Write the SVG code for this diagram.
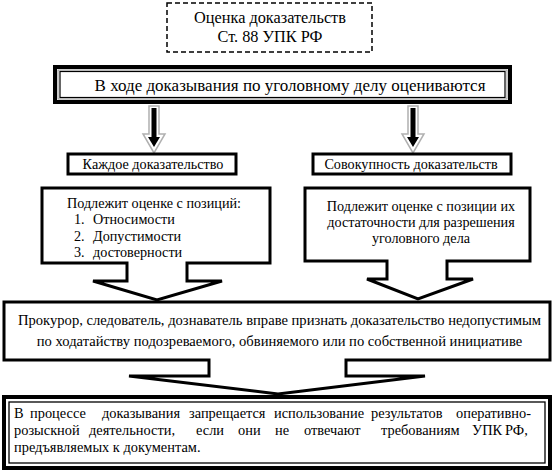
<svg xmlns="http://www.w3.org/2000/svg" width="554" height="472" viewBox="0 0 554 472">
<style>
text{font-family:"Liberation Serif","Times New Roman",serif;fill:#000}
.c{text-anchor:middle}
.box{fill:#fff;stroke:#000}
.call{fill:#fff;stroke:#000;stroke-width:3;stroke-linejoin:miter}
.ao{fill:#fff;stroke:#b0b0b0;stroke-width:1.5}
.ai{fill:#000}
</style>
<rect width="554" height="472" fill="#fff"/>
<g id="title">
<rect x="167" y="3" width="205" height="49" fill="#fff" stroke="#000" stroke-width="1.5" stroke-dasharray="5,3"/>
<text class="c" x="270" y="23" font-size="16.3">Оценка доказательств</text>
<text class="c" x="270" y="42" font-size="16.3">Ст. 88 УПК РФ</text>
</g>
<g id="banner">
<rect x="55" y="67" width="455" height="35" fill="#fff" stroke="#000" stroke-width="4"/>
<rect x="58" y="70" width="449" height="29" fill="none" stroke="#9a9a9a" stroke-width="1"/>
<rect x="60" y="71.5" width="445" height="26" fill="none" stroke="#000" stroke-width="1.2"/>
<text class="c" x="290" y="91" font-size="17">В ходе доказывания по уголовному делу оцениваются</text>
</g>
<g id="connectors">
<polygon class="ao" points="149,106 159,106 159,134 165,134 154,153 143,134 149,134"/>
<rect class="ai" x="151.5" y="108" width="5" height="30"/>
<polygon class="ai" points="148,137 160,137 154,147"/>
<polygon class="ao" points="408,106 418,106 418,134 424,134 413,153 402,134 408,134"/>
<rect class="ai" x="410.5" y="108" width="5" height="30"/>
<polygon class="ai" points="407,137 419,137 413,147"/>
</g>
<g id="each">
<rect class="box" x="68" y="154" width="168" height="20" stroke-width="3"/>
<text class="c" x="153" y="169" font-size="14.2">Каждое доказательство</text>
</g>
<g id="total">
<rect class="box" x="313" y="154" width="198" height="20" stroke-width="3"/>
<text class="c" x="411" y="169" font-size="14.2">Совокупность доказательств</text>
</g>
<g id="left-callout">
<polygon class="call" points="42,188 270,188 270,263 187,263 187,281 222,281 157,300 93,281 127,281 127,263 42,263"/>
<text class="c" x="154" y="208" font-size="14.2">Подлежит оценке с позиций:</text>
<text x="74" y="224" font-size="14.2">1.</text><text x="93" y="224" font-size="14.2">Относимости</text>
<text x="74" y="241" font-size="14.2">2.</text><text x="93" y="241" font-size="14.2">Допустимости</text>
<text x="74" y="257" font-size="14.2">3.</text><text x="93" y="257" font-size="14.2">достоверности</text>
</g>
<g id="right-callout">
<polygon class="call" points="305,188 530,188 530,261 447,261 447,279 473,279 418,299 367,279 387,279 387,261 305,261"/>
<text class="c" x="421" y="211" font-size="14.2">Подлежит оценке с позиции их</text>
<text class="c" x="421" y="227" font-size="14.2">достаточности для разрешения</text>
<text class="c" x="421" y="243" font-size="14.2">уголовного дела</text>
</g>
<g id="prosecutor">
<polygon class="call" points="4,302 550,302 550,360 346,360 346,376 425,376 278,394 129,376 209,376 209,360 4,360"/>
<text class="c" x="279.5" y="325" font-size="14.6">Прокурор, следователь, дознаватель вправе  признать доказательство недопустимым</text>
<text class="c" x="279.5" y="346" font-size="14.6">по ходатайству подозреваемого, обвиняемого или по собственной инициативе</text>
</g>
<g id="prohibition">
<rect x="4" y="397" width="546" height="71" fill="#fff" stroke="#000" stroke-width="4"/>
<rect x="9" y="402" width="536" height="61" fill="none" stroke="#000" stroke-width="1.3"/>
<text font-size="14.4" y="418"><tspan x="14">В</tspan><tspan x="30">процессе</tspan><tspan x="102">доказывания</tspan><tspan x="189">запрещается</tspan><tspan x="274">использование</tspan><tspan x="371">результатов</tspan><tspan x="456">оперативно-</tspan></text>
<text font-size="14.4" y="435"><tspan x="14">розыскной</tspan><tspan x="89">деятельности,</tspan><tspan x="196">если</tspan><tspan x="238">они</tspan><tspan x="275">не</tspan><tspan x="304">отвечают</tspan><tspan x="381">требованиям</tspan><tspan x="472">УПК</tspan><tspan x="505">РФ,</tspan></text>
<text font-size="14.4" x="14" y="452">предъявляемых к документам.</text>
</g>
</svg>
